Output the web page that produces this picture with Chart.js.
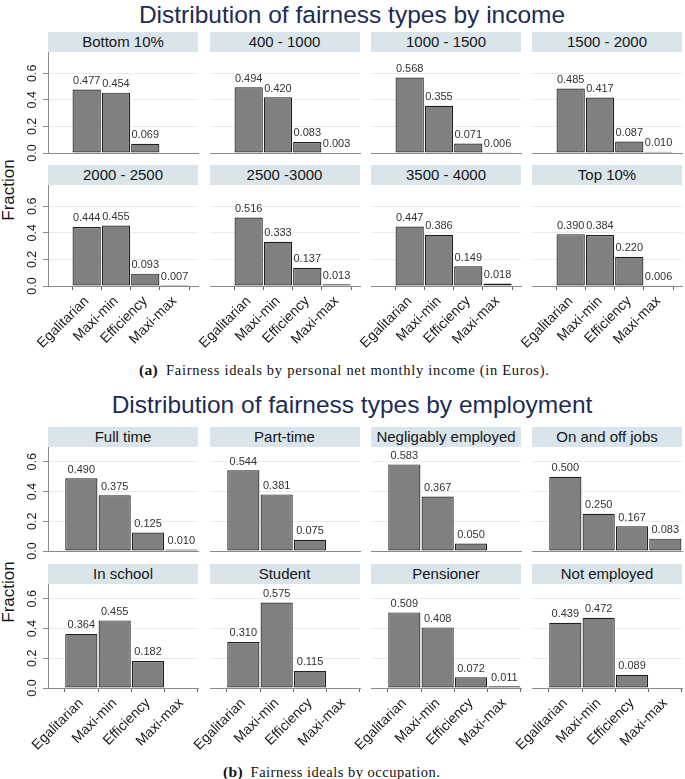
<!DOCTYPE html>
<html>
<head>
<meta charset="utf-8">
<script src="https://cdn.jsdelivr.net/npm/chart.js@4.4.1/dist/chart.umd.min.js"></script>
<style>
  html, body { margin: 0; padding: 0; background: #ffffff; }
  #page { position: relative; width: 685px; height: 779px; overflow: hidden; background: #ffffff; }
  canvas { position: absolute; }
  .title { position: absolute; left: 2px; width: 700px; text-align: center; font-family: "Liberation Sans", Arial, sans-serif; font-size: 24.5px; line-height: 24.5px; color: #1c2c55; white-space: nowrap; }
  .hdr { position: absolute; width: 150px; height: 20px; line-height: 20px; background: #d9e5eb; text-align: center; font-family: "Liberation Sans", Arial, sans-serif; font-size: 15px; color: #151515; white-space: nowrap; }
  .ylab { position: absolute; width: 100px; height: 20px; line-height: 20px; text-align: center; font-family: "Liberation Sans", Arial, sans-serif; font-size: 17px; color: #151515; transform: rotate(-90deg); transform-origin: 50% 50%; }
  .cap { position: absolute; font-family: "Liberation Serif", "Times New Roman", serif; font-size: 14.5px; line-height: 14.5px; color: #111; white-space: nowrap; }
  .cap b { font-weight: bold; font-size: 15.5px; letter-spacing: 0.3px; }
</style>
</head>
<body>
<div id="page"></div>
<script>
// ---------------- data ----------------
const fairnessTypes = ['Egalitarian', 'Maxi-min', 'Efficiency', 'Maxi-max'];
const yTickValues = [0.0, 0.2, 0.4, 0.6];

const incomeGroups = ['Bottom 10%', '400 - 1000', '1000 - 1500', '1500 - 2000',
                      '2000 - 2500', '2500 -3000', '3500 - 4000', 'Top 10%'];
const incBottom10   = [0.477, 0.454, 0.069, null];
const inc400to1000  = [0.494, 0.420, 0.083, 0.003];
const inc1000to1500 = [0.568, 0.355, 0.071, 0.006];
const inc1500to2000 = [0.485, 0.417, 0.087, 0.010];
const inc2000to2500 = [0.444, 0.455, 0.093, 0.007];
const inc2500to3000 = [0.516, 0.333, 0.137, 0.013];
const inc3500to4000 = [0.447, 0.386, 0.149, 0.018];
const incTop10      = [0.390, 0.384, 0.220, 0.006];

const employmentGroups = ['Full time', 'Part-time', 'Negligably employed', 'On and off jobs',
                          'In school', 'Student', 'Pensioner', 'Not employed'];
const empFullTime    = [0.490, 0.375, 0.125, 0.010];
const empPartTime    = [0.544, 0.381, 0.075, null];
const empNegligably  = [0.583, 0.367, 0.050, null];
const empOnOff       = [0.500, 0.250, 0.167, 0.083];
const empInSchool    = [0.364, 0.455, 0.182, null];
const empStudent     = [0.310, 0.575, 0.115, null];
const empPensioner   = [0.509, 0.408, 0.072, 0.011];
const empNotEmployed = [0.439, 0.472, 0.089, null];

const incomeTitle = 'Distribution of fairness types by income';
const employmentTitle = 'Distribution of fairness types by employment';
const yAxisTitle = 'Fraction';

// ---------------- layout ----------------
const FONT = '"Liberation Sans", Arial, sans-serif';
const COL_X = [48, 209.5, 371, 532];
const PANEL_W = 150;

const figures = [
  {
    title: incomeTitle, titleTop: 2.5,
    groups: incomeGroups,
    series: [incBottom10, inc400to1000, inc1000to1500, inc1500to2000,
             inc2000to2500, inc2500to3000, inc3500to4000, incTop10],
    rows: [{ headerTop: 32, plotTop: 52, plotH: 101 }, { headerTop: 165, plotTop: 185, plotH: 101 }],
    ymax: 0.76, xmin: -1.32, xmax: 3.80, yLabelCenter: 190,
    caption: ['(a)', 'Fairness ideals by personal net monthly income (in Euros).'],
    capLeft: 139, capTop: 363, capSpacing: '0.72px'
  },
  {
    title: employmentTitle, titleTop: 392.5,
    groups: employmentGroups,
    series: [empFullTime, empPartTime, empNegligably, empOnOff,
             empInSchool, empStudent, empPensioner, empNotEmployed],
    rows: [{ headerTop: 426.5, plotTop: 446.5, plotH: 104 }, { headerTop: 563.5, plotTop: 583.5, plotH: 104 }],
    ymax: 0.70, xmin: -1.0, xmax: 3.5, yLabelCenter: 592,
    caption: ['(b)', 'Fairness ideals by occupation.'],
    capLeft: 223, capTop: 764.5, capSpacing: '0.5px'
  }
];

const valueLabelPlugin = {
  id: 'valueLabels',
  afterDatasetsDraw(chart) {
    const ctx = chart.ctx;
    const meta = chart.getDatasetMeta(0);
    const data = chart.data.datasets[0].data;
    ctx.save();
    ctx.font = '11px ' + FONT;
    ctx.fillStyle = '#333333';
    ctx.textAlign = 'center';
    ctx.textBaseline = 'alphabetic';
    meta.data.forEach((bar, i) => {
      const v = data[i].y;
      if (v === null || v === undefined) return;
      ctx.fillText(v.toFixed(3), bar.x, bar.y - 5.5);
    });
    ctx.restore();
  }
};

const page = document.getElementById('page');

function addDiv(cls, text, style) {
  const d = document.createElement('div');
  d.className = cls;
  d.textContent = text;
  Object.assign(d.style, style);
  page.appendChild(d);
  return d;
}

figures.forEach(fig => {
  addDiv('title', fig.title, { top: fig.titleTop + 'px' });
  addDiv('ylab', yAxisTitle, { left: (9 - 50) + 'px', top: (fig.yLabelCenter - 10) + 'px' });

  const cap = document.createElement('div');
  cap.className = 'cap';
  cap.style.left = fig.capLeft + 'px';
  cap.style.top = fig.capTop + 'px';
  cap.style.letterSpacing = fig.capSpacing;
  const b = document.createElement('b');
  b.textContent = fig.caption[0];
  cap.appendChild(b);
  cap.appendChild(document.createTextNode('\u2002' + fig.caption[1]));
  page.appendChild(cap);

  fig.series.forEach((values, idx) => {
    const r = Math.floor(idx / 4), c = idx % 4;
    const row = fig.rows[r];
    const showY = c === 0;
    const showX = r === 1;
    const padL = showY ? 32 : 20;
    const padR = 8;
    const padT = 8;
    const padB = showX ? 0 : 10;
    const xH = showX ? 74 : 2;

    addDiv('hdr', fig.groups[idx], { left: COL_X[c] + 'px', top: row.headerTop + 'px' });

    const cv = document.createElement('canvas');
    const W = padL + PANEL_W + padR;
    const H = padT + row.plotH + xH + padB;
    cv.width = W; cv.height = H;
    cv.style.width = W + 'px'; cv.style.height = H + 'px';
    cv.style.left = (COL_X[c] - padL) + 'px';
    cv.style.top = (row.plotTop - padT) + 'px';
    page.appendChild(cv);

    new Chart(cv, {
      type: 'bar',
      data: {
        datasets: [{
          data: values.map((v, i) => ({ x: i, y: v })),
          backgroundColor: '#808080',
          borderColor: '#1f1f1f',
          borderWidth: 1.2,
          borderSkipped: false,
          barPercentage: 0.965,
          categoryPercentage: 1.0
        }]
      },
      options: {
        responsive: false,
        animation: false,
        devicePixelRatio: 1,
        layout: { padding: { top: padT, left: 0, right: padR, bottom: padB } },
        plugins: { legend: { display: false }, tooltip: { enabled: false }, title: { display: false } },
        scales: {
          x: {
            type: 'linear', position: 'bottom', min: fig.xmin, max: fig.xmax, offset: false,
            afterBuildTicks: s => { s.ticks = fairnessTypes.map((_, i) => ({ value: i })); },
            afterFit: s => { s.height = xH; s.paddingLeft = 0; s.paddingRight = 0; },
            grid: { display: true, drawOnChartArea: false, drawTicks: showX, tickLength: 4, color: '#666', tickColor: '#666' },
            border: { display: true, color: '#8a8a8a', width: 1 },
            ticks: {
              display: showX, autoSkip: false, minRotation: 45, maxRotation: 45, padding: 3,
              color: '#1a1a1a', font: { family: FONT, size: 14 },
              callback: (v) => fairnessTypes[v]
            }
          },
          y: {
            type: 'linear', position: 'left', min: 0, max: fig.ymax,
            afterBuildTicks: s => { s.ticks = yTickValues.map(v => ({ value: v })); },
            afterFit: s => { s.width = padL; s.paddingTop = 0; s.paddingBottom = 0; },
            grid: { color: '#e4edf0', lineWidth: 1, drawTicks: showY, tickLength: 5, tickColor: '#8a8a8a' },
            border: { display: showY, color: '#8a8a8a', width: 1 },
            ticks: {
              display: showY, minRotation: 90, maxRotation: 90, crossAlign: 'center', padding: 2,
              color: '#1a1a1a', font: { family: FONT, size: 12.5 },
              callback: v => Number(v).toFixed(1)
            }
          }
        }
      },
      plugins: [valueLabelPlugin]
    });
  });
});
</script>
</body>
</html>
